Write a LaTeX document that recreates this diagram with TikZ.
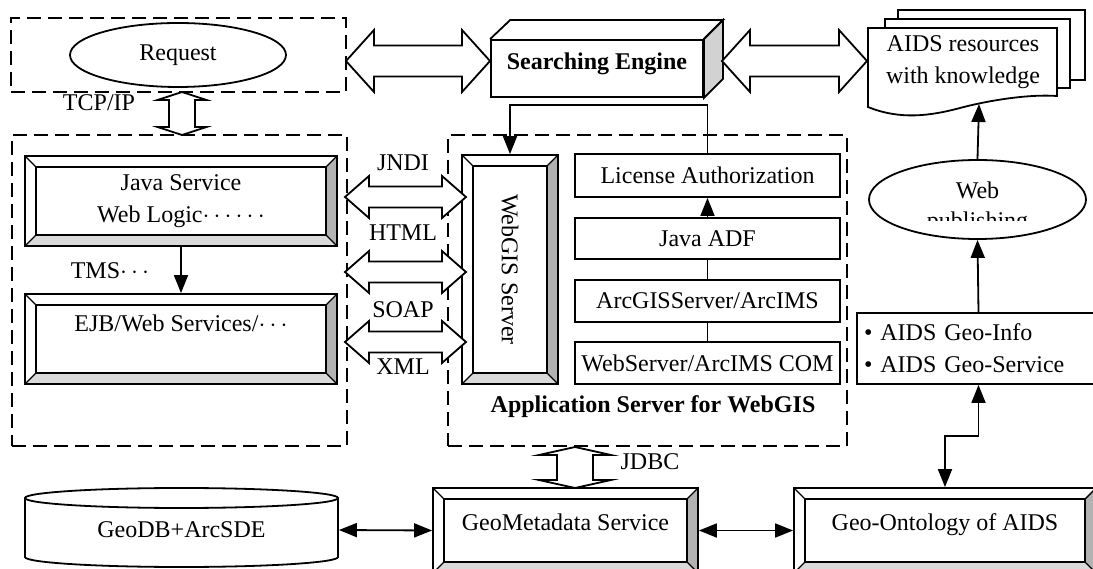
\documentclass[tikz,border=0pt]{standalone}
\usepackage{graphicx}
\usepackage{fontspec}
\setmainfont{Liberation Serif}
\usetikzlibrary{shapes.geometric,arrows.meta}

% wide block arrows with a head at each end
\newcommand{\hblock}[5]{%
  \filldraw[fill=white] (#1) -- ([shift={(#3,-#4)}]#1) -- ([shift={(#3,-#5)}]#1)
    -- ([shift={(-#3,-#5)}]#2) -- ([shift={(-#3,-#4)}]#2) -- (#2)
    -- ([shift={(-#3,#4)}]#2) -- ([shift={(-#3,#5)}]#2)
    -- ([shift={(#3,#5)}]#1) -- ([shift={(#3,#4)}]#1) -- cycle;}
\newcommand{\vblock}[5]{%
  \filldraw[fill=white] (#1) -- ([shift={(#4,#3)}]#1) -- ([shift={(#5,#3)}]#1)
    -- ([shift={(#5,-#3)}]#2) -- ([shift={(#4,-#3)}]#2) -- (#2)
    -- ([shift={(-#4,-#3)}]#2) -- ([shift={(-#5,-#3)}]#2)
    -- ([shift={(-#5,#3)}]#1) -- ([shift={(-#4,#3)}]#1) -- cycle;}

\begin{document}
\begin{tikzpicture}[x=1pt, y=-1pt, line width=1.8pt,
  font=\fontsize{24}{32}\selectfont,
  >={Triangle[length=18pt,width=14pt]},
  dashbox/.style={draw, dash pattern=on 14pt off 7pt, inner sep=0pt},
  plainbox/.style={draw, fill=white, inner sep=0pt},
  bevel/.style={draw, fill=white, inner sep=0pt, align=center, path picture={
    \fill[gray!60] (path picture bounding box.north east) -- (path picture bounding box.south east)
      -- ([shift={(-11pt,11pt)}]path picture bounding box.south east)
      -- ([shift={(-11pt,-11pt)}]path picture bounding box.north east) -- cycle;
    \fill[gray!30] (path picture bounding box.south west) -- (path picture bounding box.south east)
      -- ([shift={(-11pt,11pt)}]path picture bounding box.south east)
      -- ([shift={(11pt,11pt)}]path picture bounding box.south west) -- cycle;
    \draw[line width=1.4pt] ([shift={(11pt,11pt)}]path picture bounding box.south west)
      rectangle ([shift={(-11pt,-11pt)}]path picture bounding box.north east);
    \draw[line width=1.4pt] (path picture bounding box.south west) -- ++(11pt,11pt)
      (path picture bounding box.north west) -- ++(11pt,-11pt)
      (path picture bounding box.north east) -- ++(-11pt,-11pt)
      (path picture bounding box.south east) -- ++(-11pt,11pt);
  }},
]
\useasboundingbox (0,0) rectangle (1093,569);

% request and searching engine
\node[dashbox, minimum width=335pt, minimum height=74pt] (reqbox) at (178.5,55) {};
\node[draw, ellipse, minimum width=216pt, minimum height=64pt, inner sep=0pt] (request) at (178,55) {Request};
\node (tcp) at (99,103) {TCP/IP};
\coordinate (tcptop) at (182,92);
\coordinate (tcpbot) at (182,135);

\node[plainbox, align=center, minimum width=212pt, minimum height=57pt] (engine) at (597,68.5) {\bfseries Searching Engine\\[-17pt]\mbox{}};
\draw (engine.north west) -- ++(20,-19) -- ([shift={(19,-19)}]engine.north east) -- (engine.north east);
\filldraw[fill=gray!35] (engine.north east) -- ++(19,-19) -- ([shift={(19,-19)}]engine.south east) -- (engine.south east) -- cycle;

\coordinate (s1) at (346,61);
\coordinate (s2) at (490,61);
\coordinate (s3) at (722,61);
\coordinate (s4) at (867,61);
\hblock{s1}{s2}{28}{31}{15.5}
\hblock{s3}{s4}{28}{31}{15.5}

% stacked documents
\filldraw[fill=white] (898,10) rectangle (1085,80);
\filldraw[fill=white] (885,19) rectangle (1070,88);
\filldraw[fill=white] (868,28) -- (1057,28) -- (1057,96) .. controls (1030,94) and (990,100) .. (960,108)
  .. controls (930,116) and (900,120) .. (868,107) -- cycle;
\node[align=center] (docs) at (963,62) {AIDS resources\\with knowledge};
\coordinate (docbot) at (979,104);

% left column
\node[dashbox, minimum width=335pt, minimum height=311pt] (leftbox) at (179.5,290.5) {};
\vblock{tcptop}{tcpbot}{8}{24.5}{13}
\node[bevel, minimum width=312pt, minimum height=90pt] (java) at (181,201) {Java Service\\Web Logic$\cdots\cdots$};
\node[bevel, minimum width=312pt, minimum height=90pt] (ejb) at (181,339) {EJB/Web Services/$\cdots$\\\mbox{}};
\draw[->] (java.south) -- (ejb.north);
\node (tms) at (110,271) {TMS$\cdots$};

% application server
\node[dashbox, minimum width=399pt, minimum height=311pt] (appbox) at (647.5,290.5) {};
\node[bevel, minimum width=96pt, minimum height=229pt] (webgis) at (510,269.5) {\rotatebox{-90}{WebGIS Server}};
\node[plainbox, minimum width=265pt, minimum height=43pt] (lic) at (707.5,175.5) {License Authorization};
\node[plainbox, minimum width=265pt, minimum height=41pt] (jadf) at (707.5,238.5) {Java ADF};
\node[plainbox, minimum width=265pt, minimum height=42pt] (arcgis) at (707.5,301) {ArcGISServer/ArcIMS};
\node[plainbox, minimum width=265pt, minimum height=42pt] (websrv) at (707.5,363) {WebServer/ArcIMS COM};
\node (appname) at (653,407) {\bfseries Application Server for WebGIS};
\draw[->] (jadf.north) -- (lic.south);
\draw (arcgis.north) -- (jadf.south);
\draw (websrv.north) -- (arcgis.south);
\draw[->] (lic.north) -- ++(0,-48) -| (webgis.north);

% protocols
\coordinate (j1) at (345,197); \coordinate (j2) at (466,197);
\coordinate (h1) at (345,272); \coordinate (h2) at (466,272);
\coordinate (x1) at (345,342); \coordinate (x2) at (466,342);
\hblock{j1}{j2}{24}{21}{10.5}
\hblock{h1}{h2}{24}{21}{10.5}
\hblock{x1}{x2}{24}{21}{10.5}
\node (jndi) at (403,163) {JNDI};
\node (html) at (403,233) {HTML};
\node (soap) at (403,310) {SOAP};
\node (xml) at (403,367) {XML};

% web publishing
\node[draw, ellipse, minimum width=217pt, minimum height=79pt, inner sep=0pt] (webpub) at (977.5,199.5) {};
\node (webtxt) at (977.5,190) {Web};
\begin{scope}
  \clip (860,150) rectangle (1095,221);
  \node (pubtxt) at (977.5,223) {publishing};
\end{scope}
\node[plainbox, minimum width=243pt, minimum height=71pt, text width=229pt, align=left] (aidsgeo) at (978.5,348.5)
  {\textbullet\ AIDS Geo-Info\\\textbullet\ AIDS Geo-Service};
\draw[->] (webpub.north) -- (docbot);
\draw[->] (aidsgeo.north) -- (webpub.south);

% bottom row
\coordinate (jdbctop) at (575,447);
\coordinate (jdbcbot) at (575,488);
\vblock{jdbctop}{jdbcbot}{8}{36}{18}
\node (jdbc) at (650,462) {JDBC};
\draw (181.5,498) ellipse [x radius=156.5pt, y radius=10pt];
\draw (25,498) -- (25,557) arc[start angle=180, end angle=360, x radius=156.5pt, y radius=10pt] -- (338,498);
\node[minimum width=313pt, inner sep=0pt] (geodb) at (181.5,530) {GeoDB+ArcSDE};
\node[bevel, minimum width=265pt, minimum height=85pt] (geometa) at (565.5,530.5) {GeoMetadata Service\\[-15pt]\mbox{}};
\node[bevel, minimum width=302pt, minimum height=85pt] (onto) at (945,530.5) {Geo-Ontology of AIDS\\[-15pt]\mbox{}};
\draw[<->] (geodb.east) -- (geometa.west);
\draw[<->] (geometa.east) -- (onto.west);
\draw[<->] (onto.north) -- ++(0,-51) -| (aidsgeo.south);
\end{tikzpicture}
\end{document}
